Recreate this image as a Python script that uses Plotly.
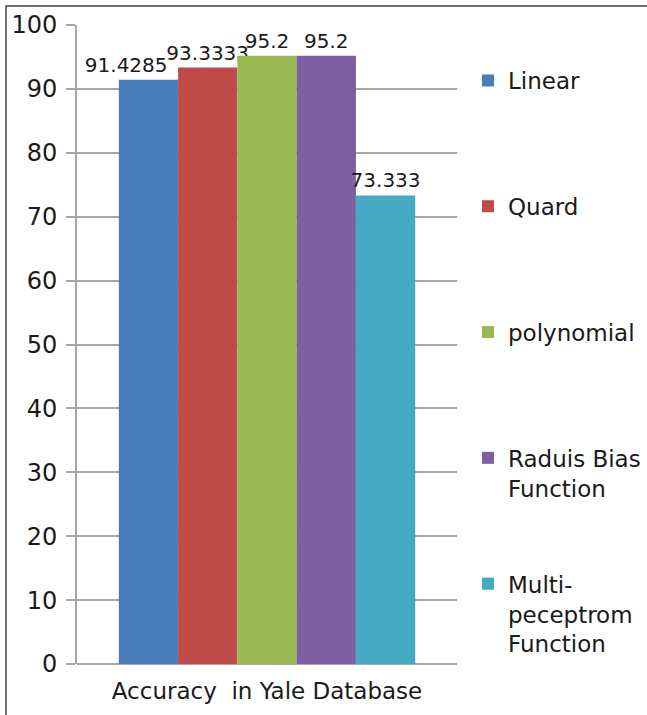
import plotly.graph_objects as go

category = ["Accuracy  in Yale Database"]
legend_labels = ["Linear<br> ", "Quard<br> ", "polynomial<br> ", "Raduis Bias<br>Function", "Multi-<br>peceptrom<br>Function"]
values = [91.4285, 93.3333, 95.2, 95.2, 73.333]
value_labels = ["91.4285", "93.3333", "95.2", "95.2", "73.333"]
colors = ["#4A7EBB", "#BE4B48", "#98B954", "#7D60A0", "#46AAC5"]
# trailing non-breaking spaces nudge a label left, as in the reference
label_pad = [7, 0, 0, 0, 0]

FONT = "DejaVu Sans"
TXT = "#1a1a1a"

fig = go.Figure()
for i, (lab, v, vl, c, pad) in enumerate(zip(legend_labels, values, value_labels, colors, label_pad)):
    fig.add_trace(go.Bar(
        x=category, y=[v], name=lab, marker=dict(color=c, line=dict(width=0)),
        text=[vl + "\u00a0" * pad], textposition="outside", constraintext="none", cliponaxis=False,
        textfont=dict(family=FONT, size=20, color=TXT),
        legendgroup=f"g{i}",
    ))

W, H = 647, 715
PL, PR, PT, PB = 77, 457, 25, 664  # plot area in page pixels
pw, ph = PR - PL, PB - PT

fig.update_layout(
    width=W, height=H,
    margin=dict(l=PL, r=W - PR, t=PT, b=H - PB, autoexpand=False),
    paper_bgcolor="white", plot_bgcolor="white",
    barmode="group", bargap=0.22, bargroupgap=0,
    font=dict(family=FONT, color=TXT),
    showlegend=True,
    legend=dict(
        x=(468 - PL) / pw, xanchor="left",
        y=1 - (59 - PT) / ph, yanchor="top",
        font=dict(family=FONT, size=23, color=TXT),
        traceorder="grouped", tracegroupgap=63, valign="top",
        bgcolor="rgba(0,0,0,0)",
    ),
    xaxis=dict(
        showgrid=False, showline=False, ticks="", automargin=False,
        tickfont=dict(family=FONT, size=23, color=TXT),
        ticklabelstandoff=11,
    ),
    yaxis=dict(
        range=[0, 100], dtick=10, tick0=0, automargin=False,
        showgrid=True, gridcolor="#a6a6a6", gridwidth=2,
        zeroline=True, zerolinecolor="#a6a6a6", zerolinewidth=2,
        showline=True, linecolor="#a6a6a6", linewidth=2,
        ticks="outside", ticklen=9, tickwidth=2, tickcolor="#a6a6a6",
        tickfont=dict(family=FONT, size=24, color=TXT),
        ticklabelstandoff=4,
    ),
    shapes=[dict(
        type="rect", xref="paper", yref="paper",
        x0=(6 - PL) / pw, x1=1.8, y0=-0.3, y1=(PB - 6) / ph,
        line=dict(color="#404040", width=1.5), fillcolor="rgba(0,0,0,0)",
        layer="below",
    )],
)

fig.write_html(
    "out.html",
    config={"displayModeBar": False},
    post_script="document.body.style.margin='0';document.body.style.overflow='hidden';",
)
